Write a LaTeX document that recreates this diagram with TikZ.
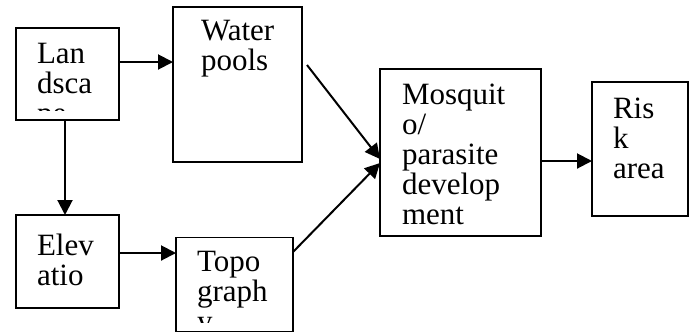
\documentclass[tikz,border=0pt]{standalone}
\usepackage{fontspec}
\setmainfont{Liberation Serif}
\usetikzlibrary{arrows.meta}
\begin{document}
\begin{tikzpicture}[x=1pt,y=-1pt,
  box/.style={draw, line width=1.7pt, inner sep=0pt, outer sep=0pt},
  lbl/.style={anchor=base west, align=left, inner sep=0pt, outer sep=0pt,
              font=\fontsize{31}{30}\selectfont},
  conn/.style={line width=2pt, -{Triangle[length=15pt,width=15pt]}}]
\useasboundingbox[fill=white] (0,0) rectangle (695,333);
% boxes
\node[box, minimum width=103pt, minimum height=92pt]  (land)  at (67.5,74)   {};
\node[box, minimum width=129pt, minimum height=155pt] (water) at (237.5,84.5) {};
\node[box, minimum width=103pt, minimum height=93pt]  (elev)  at (67.5,261.5) {};
\node[box, minimum width=117pt, minimum height=94pt]  (topo)  at (234.5,284.5) {};
\node[box, minimum width=161pt, minimum height=167pt] (mosq)  at (460.5,152.5) {};
\node[box, minimum width=96pt,  minimum height=134pt] (risk)  at (640,149)   {};
% texts (anchor = baseline of last line)
\begin{scope}
\clip (16,28) rectangle (119,110.5);
\node[lbl] (landt) at (37,123) {Lan\\dsca\\pe};
\end{scope}
\node[lbl] (watert) at (201,70) {Water\\pools};
\node[lbl] (elevt) at (37,285) {Elev\\atio};
\begin{scope}
\clip (176,237) rectangle (293,322);
\node[lbl] (topot) at (197,331) {Topo\\graph\\y};
\end{scope}
\node[lbl] (mosqt) at (402,224) {Mosquit\\o/\\parasite\\develop\\ment};
\node[lbl] (riskt) at (613,178) {Ris\\k\\area};
% connectors
\draw[conn] (land.east |- 0,62) -- (water.west |- 0,62);
\draw[conn] ([xshift=-2.5pt]land.south) -- ([xshift=-2.5pt]elev.north);
\draw[conn] (elev.east |- 0,253) -- (topo.west |- 0,253);
\draw[conn] ([xshift=5pt]water.east |- 0,65) -- (mosq.west |- 0,159);
\draw[conn] (topo.east |- 0,252) -- (mosq.west |- 0,163);
\draw[conn] (mosq.east |- 0,161) -- (risk.west |- 0,161);
\end{tikzpicture}
\end{document}
